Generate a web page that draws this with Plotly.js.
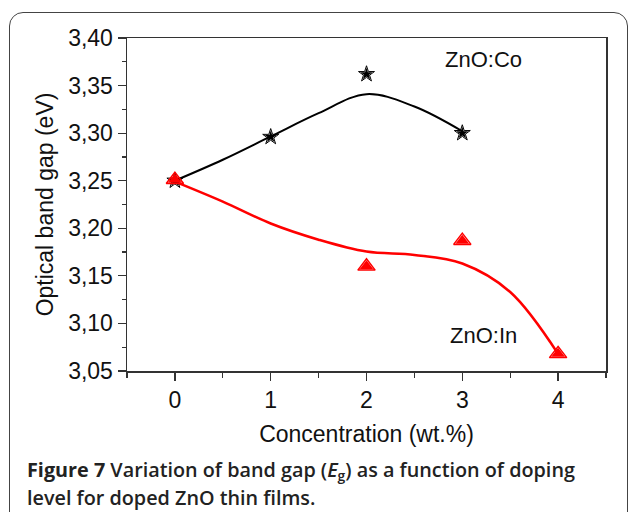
<!DOCTYPE html>
<html>
<head>
<meta charset="utf-8">
<script src="https://cdn.plot.ly/plotly-3.0.1.min.js"></script>
<style>
html,body{margin:0;padding:0;background:#fff;}
#wrap{position:relative;width:629px;height:512px;overflow:hidden;}
#chart{position:absolute;left:0;top:0;width:629px;height:512px;}
#frame{position:absolute;left:9px;top:12px;width:619px;height:520px;border:1.5px solid #444;border-radius:14px;pointer-events:none;box-sizing:border-box;}
</style>
</head>
<body>
<div id="wrap">
<div id="frame"></div>
<div id="chart"></div>
</div>
<script>
// Measured points
const coX = [0, 1, 2, 3];
const coY = [3.250, 3.296, 3.362, 3.300];
const inX = [0, 2, 3, 4];
const inY = [3.251, 3.160, 3.187, 3.068];
// Fitted curves
const coFitX = [0, 0.5, 1, 1.5, 2, 2.5, 3];
const coFitY = [3.250, 3.272, 3.2965, 3.321, 3.341, 3.328, 3.302];
const inFitX = [0, 0.5, 1, 1.5, 2, 2.5, 3, 3.5, 4];
const inFitY = [3.249, 3.228, 3.205, 3.188, 3.1755, 3.172, 3.163, 3.133, 3.068];
const xTicks = [0, 1, 2, 3, 4];
const yTicks = [3.05, 3.10, 3.15, 3.20, 3.25, 3.30, 3.35, 3.40];

const FONT = 'Liberation Sans, Arial, sans-serif';

const traces = [
  {x: coFitX, y: coFitY, mode: 'lines', line: {color: '#000', width: 2, shape: 'spline', smoothing: 1}, hoverinfo: 'skip'},
  {x: inFitX, y: inFitY, mode: 'lines', line: {color: '#ff0000', width: 2.5, shape: 'spline', smoothing: 1}, hoverinfo: 'skip'},
  {x: coX, y: coY, mode: 'markers', marker: {symbol: 'star-open', size: 12, color: '#000', line: {width: 1, color: '#000'}}},
  {x: coX, y: coY, mode: 'markers', marker: {symbol: 'star', size: 9, color: '#000', line: {width: 0}}},
  {x: inX, y: inY, mode: 'markers', marker: {symbol: 'triangle-up-open', size: 15, color: '#ff0000', line: {width: 1.5, color: '#ff0000'}}},
  {x: inX, y: inY, mode: 'markers', marker: {symbol: 'triangle-up', size: 12, color: '#ff0000', line: {width: 0}}}
];

const layout = {
  width: 629, height: 512,
  margin: {l: 127, r: 23, t: 38, b: 141},
  paper_bgcolor: 'rgba(0,0,0,0)',
  plot_bgcolor: '#fff',
  showlegend: false,
  separators: ',.',
  font: {family: FONT, color: '#000'},
  xaxis: {
    range: [-0.5, 4.5], tickvals: xTicks, ticktext: xTicks.map(String),
    ticks: 'outside', ticklen: 8, tickwidth: 1.2, tickcolor: '#333',
    minor: {dtick: 0.5, tick0: 0, ticks: 'outside', ticklen: 5, tickwidth: 1.2, tickcolor: '#333'},
    showline: true, linecolor: '#333', linewidth: 1.5, mirror: true,
    showgrid: false, zeroline: false,
    tickfont: {size: 23, family: FONT, color: '#111'},
    title: {text: 'Concentration (wt.%)', font: {size: 23, family: FONT, color: '#111'}, standoff: 14}
  },
  yaxis: {
    range: [3.05, 3.40], tickvals: yTicks, tickformat: '.2f',
    ticks: 'outside', ticklen: 8, tickwidth: 1.2, tickcolor: '#333',
    minor: {dtick: 0.025, tick0: 3.05, ticks: 'outside', ticklen: 4, tickwidth: 1.2, tickcolor: '#333'},
    showline: true, linecolor: '#333', linewidth: 1.5, mirror: true,
    showgrid: false, zeroline: false,
    tickfont: {size: 23, family: FONT, color: '#111'},
    title: {text: 'Optical band gap (eV)', font: {size: 23, family: FONT, color: '#111'}, standoff: 8}
  },
  annotations: [
    {x: 3.224, y: 3.377, xref: 'x', yref: 'y', text: 'ZnO:Co', showarrow: false, font: {size: 22, family: FONT, color: '#111'}},
    {x: 3.224, y: 3.087, xref: 'x', yref: 'y', text: 'ZnO:In', showarrow: false, font: {size: 22, family: FONT, color: '#111'}},
    {x: 25, y: 470, xref: 'paper', yref: 'paper', showarrow: false, xanchor: 'left', yanchor: 'middle', align: 'left',
     text: '<b>Figure 7</b> Variation of band gap (<i>E</i><sub>g</sub>) as a function of doping',
     font: {size: 19.8, family: 'Open Sans, sans-serif', weight: 600, color: '#222'}},
    {x: 25, y: 497, xref: 'paper', yref: 'paper', showarrow: false, xanchor: 'left', yanchor: 'middle', align: 'left',
     text: 'level for doped ZnO thin films.',
     font: {size: 19.8, family: 'Open Sans, sans-serif', weight: 600, color: '#222'}}
  ]
};
// convert caption pixel positions to paper coordinates
const pw = 629 - layout.margin.l - layout.margin.r;
const ph = 512 - layout.margin.t - layout.margin.b;
for (const a of layout.annotations) {
  if (a.xref === 'paper') {
    a.x = (a.x - layout.margin.l) / pw;
    a.y = (512 - layout.margin.b - a.y) / ph;
  }
}
Plotly.newPlot('chart', traces, layout, {displayModeBar: false, staticPlot: true});
</script>
</body>
</html>
